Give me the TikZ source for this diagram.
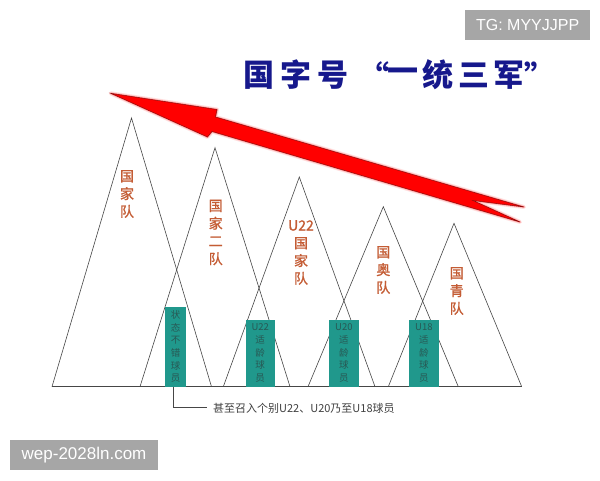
\documentclass[tikz,border=0pt]{standalone}
\usepackage{fontspec}
\setmainfont{Liberation Sans}
\newfontfamily\cjk{Noto Sans CJK SC}
\newfontfamily\cjkm[FakeBold=1.2]{Noto Sans CJK SC}
\definecolor{labc}{RGB}{196,92,52}
\definecolor{teal1}{RGB}{32,152,140}
\definecolor{boxtxt}{RGB}{40,88,84}
\definecolor{navy}{RGB}{22,24,140}
\definecolor{wmgray}{RGB}{166,166,166}
\definecolor{linec}{RGB}{70,70,70}
\definecolor{arrowedge}{RGB}{140,10,10}
\begin{document}
\begin{tikzpicture}[x=1pt,y=-1pt,
  tri/.style={draw=linec, line width=0.6pt, line join=miter},
  lab/.style={text=labc, font=\cjkm\fontsize{14}{17.7}\selectfont, align=center, inner sep=0pt},
  gbox/.style={fill=teal1, draw=none, inner sep=0pt, text=boxtxt, align=center,
               font=\cjk\fontsize{9.5}{12.7}\selectfont},
  ttl/.style={text=navy, font=\cjk\bfseries\fontsize{31}{31}\selectfont, inner sep=0pt},
  wm/.style={fill=wmgray, text=white, inner sep=0pt}]
\useasboundingbox (0,0) rectangle (600,480);
\fill[white] (0,0) rectangle (600,480);

% watermark boxes
\node[wm, minimum width=125pt, minimum height=29.3pt, anchor=north west,
      font=\fontsize{16}{16}\selectfont] (tg) at (465,10) {TG: MYYJJPP};
\node[wm, minimum width=147.7pt, minimum height=30pt, anchor=north west,
      font=\fontsize{17}{17}\selectfont] (wep) at (10,440) {wep-2028ln.com};

% title
\node[ttl] (t1) at (259,75) {国};
\node[ttl] (t2) at (296,75) {字};
\node[ttl] (t3) at (332.5,75) {号};
\node[ttl] (t4) at (374,75) {\makebox[10pt]{“}};
\node[ttl] (t5) at (403,75) {一};
\node[ttl] (t6) at (437.5,75) {统};
\node[ttl] (t7) at (473.5,75) {三};
\node[ttl] (t8) at (509,75) {军};
\node[ttl] (t9) at (540,75) {\makebox[10pt]{”}};

% arrow
\def\arrowpath{(110.7,93.3) -- (217,109.5) -- (215.5,117) -- (524,207) -- (473,200.5) -- (520,222) -- (212,131.5) -- (207.5,137) -- cycle}
\draw[red!70, opacity=0.18, line width=4pt, line join=round] \arrowpath;
\draw[red!80, opacity=0.3, line width=2pt, line join=round] \arrowpath;
\fill[red] \arrowpath;
\draw[arrowedge, line width=0.5pt, line join=miter] \arrowpath;

% triangles
\draw[tri] (52,386.7) -- (131.5,118) -- (211.5,386.7);
\draw[tri] (140,386.7) -- (215,147.7) -- (290,386.7);
\draw[tri] (223.3,386.7) -- (299.3,177) -- (375,386.7);
\draw[tri] (308,386.7) -- (383.3,206.7) -- (458.3,386.7);
\draw[tri] (388.3,386.7) -- (454,223.3) -- (521.7,386.7);
\draw[tri] (52,386.7) -- (521.7,386.7);

% triangle labels
\node[lab] (l1) at (127,194) {国\\家\\队};
\node[lab] (l2) at (215.7,232.5) {国\\家\\二\\队};
\node[lab] (l3) at (301,252.5) {U22\\国\\家\\队};
\node[lab] (l4) at (383.3,270) {国\\奥\\队};
\node[lab] (l5) at (456.7,291) {国\\青\\队};

% green boxes
\node[gbox, minimum width=21pt, minimum height=80pt, anchor=south west] (b1) at (165,386.7)
  {状\\态\\不\\错\\球\\员};
\node[gbox, minimum width=28.6pt, minimum height=66.7pt, anchor=south west] (b2) at (245.7,386.7)
  {U22\\适\\龄\\球\\员};
\node[gbox, minimum width=29.3pt, minimum height=66.7pt, anchor=south west] (b3) at (329,386.7)
  {U20\\适\\龄\\球\\员};
\node[gbox, minimum width=29.3pt, minimum height=66.7pt, anchor=south west] (b4) at (409,386.7)
  {U18\\适\\龄\\球\\员};

% note
\coordinate (nend) at (207,407.5);
\node[anchor=west, inner sep=0pt, text=black!75, font=\cjk\fontsize{11}{11}\selectfont] (note)
  at (213,408.5) {甚至召入个别U22、U20乃至U18球员};
\draw[linec, line width=0.6pt] ([xshift=-2pt]b1.south) |- (nend);
\end{tikzpicture}
\end{document}
